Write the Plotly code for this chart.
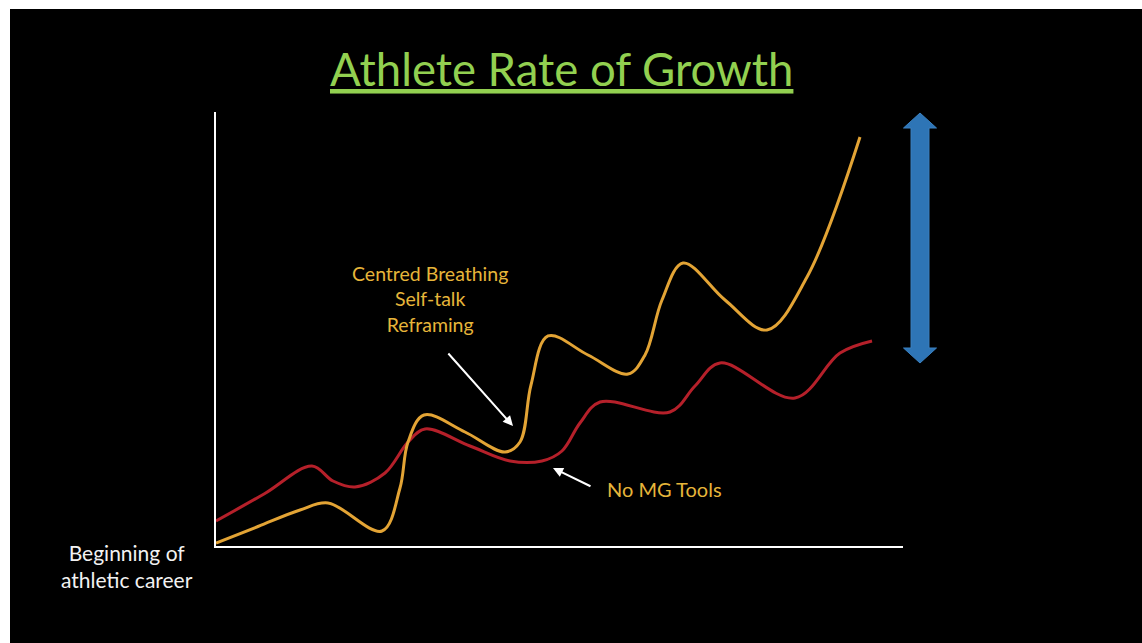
import plotly.graph_objects as go

# ---- data (career time vs performance, arbitrary units) ----
mg_x = [0.000, 0.611, 1.223, 1.630, 2.416, 2.678, 2.795, 3.028, 3.624, 4.207, 4.425, 4.585, 4.833, 5.415, 5.997, 6.245, 6.492, 6.798, 7.409, 8.020, 8.603, 9.374]
mg_y = [0.069, 0.449, 0.829, 0.991, 0.346, 1.336, 2.396, 3.018, 2.627, 2.166, 2.396, 3.710, 4.839, 4.401, 3.963, 4.401, 5.668, 6.521, 5.668, 4.977, 6.198, 9.424]

no_x = [0.000, 0.699, 1.397, 1.703, 2.023, 2.460, 2.795, 3.042, 3.697, 4.279, 4.745, 5.036, 5.298, 5.590, 6.608, 6.972, 7.336, 8.428, 9.083, 9.549]
no_y = [0.576, 1.198, 1.843, 1.498, 1.359, 1.682, 2.396, 2.696, 2.304, 1.959, 1.959, 2.189, 2.834, 3.318, 3.088, 3.687, 4.217, 3.410, 4.447, 4.724]

GOLD = "#E3A435"
RED = "#B5202A"
TEXT_GOLD = "#E6B53A"
FONT = "Lato"

# plot area in pixels
L, R, T, B = 216, 903, 112, 546
W, H = 1142, 643

def px(x):
    return (x - L) / (R - L)

def py(y):
    return (B - y) / (B - T)

fig = go.Figure()
fig.add_trace(go.Scatter(x=no_x, y=no_y, mode="lines", line=dict(color=RED, width=3, shape="spline", smoothing=1.0),
                         cliponaxis=False, hoverinfo="skip"))
fig.add_trace(go.Scatter(x=mg_x, y=mg_y, mode="lines", line=dict(color=GOLD, width=3, shape="spline", smoothing=1.0),
                         cliponaxis=False, hoverinfo="skip"))

shapes = [
    dict(type="rect", xref="paper", yref="paper", x0=px(10), x1=px(1200), y0=py(700), y1=py(9),
         fillcolor="black", line=dict(width=0), layer="below"),
]
# blue double arrow
cx = 920
sh, hh = 9, 16.5
top, topb, botb, bot = 113, 128, 348, 363
path = (f"M {px(cx)} {py(top)} L {px(cx+hh)} {py(topb)} L {px(cx+sh)} {py(topb)} L {px(cx+sh)} {py(botb)} "
        f"L {px(cx+hh)} {py(botb)} L {px(cx)} {py(bot)} L {px(cx-hh)} {py(botb)} L {px(cx-sh)} {py(botb)} "
        f"L {px(cx-sh)} {py(topb)} L {px(cx-hh)} {py(topb)} Z")
shapes.append(dict(type="path", xref="paper", yref="paper", path=path, fillcolor="#2E75B6",
                   line=dict(color="#3A80C0", width=1)))

annotations = [
    dict(x=px(561), y=py(68), xref="paper", yref="paper", text="<u>Athlete Rate of Growth</u>", showarrow=False,
         font=dict(family=FONT, size=45.5, color="#92D050"), xanchor="center", yanchor="middle"),
    dict(x=px(430), y=py(299), xref="paper", yref="paper",
         text="Centred Breathing<br>Self-talk<br>Reframing", showarrow=False, align="center",
         font=dict(family=FONT, size=19.5, color=TEXT_GOLD), xanchor="center", yanchor="middle"),
    dict(x=px(664), y=py(489), xref="paper", yref="paper", text="No MG Tools", showarrow=False,
         font=dict(family=FONT, size=20, color=TEXT_GOLD), xanchor="center", yanchor="middle"),
    dict(x=px(127), y=py(566), xref="paper", yref="paper", text="Beginning of<br>athletic career",
         showarrow=False, align="center",
         font=dict(family=FONT, size=21, color="#F2F2F2"), xanchor="center", yanchor="middle"),
    dict(x=px(513), y=py(426), xref="paper", yref="paper", text="", showarrow=True, ax=-66, ay=-74,
         arrowhead=2, arrowsize=1, arrowwidth=2, arrowcolor="white"),
    dict(x=px(553), y=py(468), xref="paper", yref="paper", text="", showarrow=True, ax=39, ay=19,
         arrowhead=2, arrowsize=1, arrowwidth=2, arrowcolor="white"),
]

fig.update_layout(
    width=W, height=H,
    margin=dict(l=L, r=W - R, t=T, b=H - B, pad=0),
    paper_bgcolor="white", plot_bgcolor="black",
    showlegend=False,
    shapes=shapes, annotations=annotations,
    xaxis=dict(range=[0, 10], showgrid=False, zeroline=False, showticklabels=False, ticks="",
               showline=True, linecolor="white", linewidth=2),
    yaxis=dict(range=[0, 10], showgrid=False, zeroline=False, showticklabels=False, ticks="",
               showline=True, linecolor="white", linewidth=2),
)

fig.write_html("out.html")
